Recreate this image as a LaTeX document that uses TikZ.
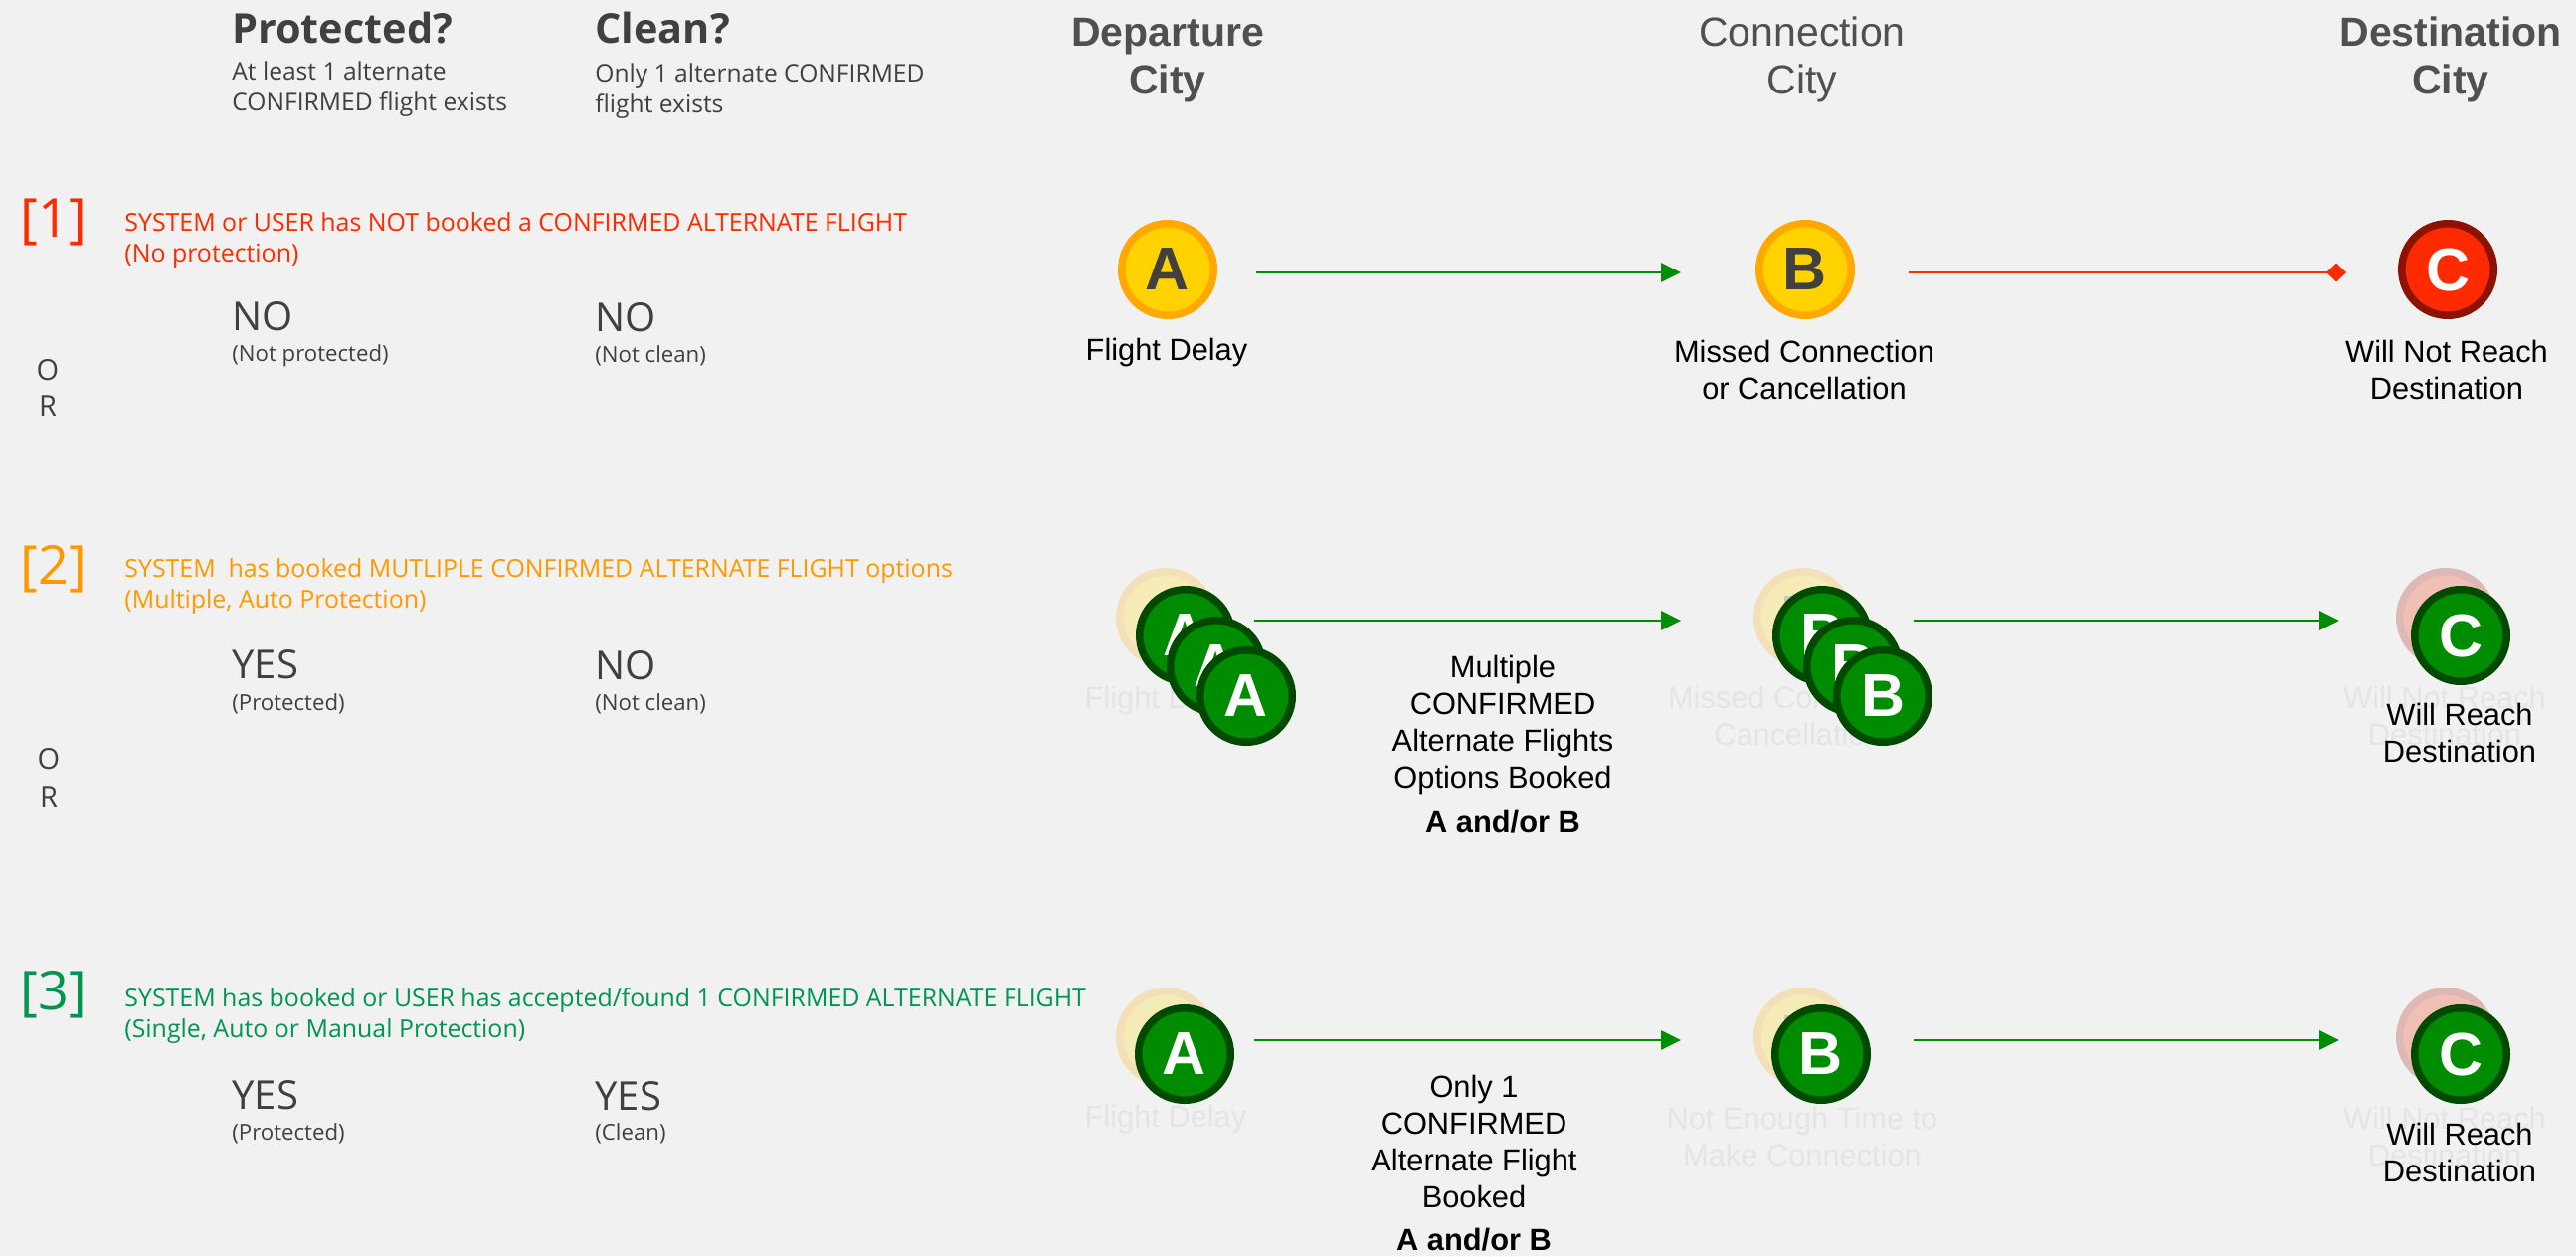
\documentclass[tikz,border=0pt]{standalone}
\usepackage{fontspec}
\setmainfont{Liberation Sans}
\newfontfamily\tahfont{Open Sans}
\usetikzlibrary{arrows.meta}
\definecolor{pageBG}{HTML}{F1F1F1}
\definecolor{darkTX}{HTML}{404040}
\definecolor{headTX}{HTML}{505050}
\definecolor{ylwFL}{HTML}{FFD200}
\definecolor{ylwDR}{HTML}{FFA800}
\definecolor{redFL}{HTML}{FF2A00}
\definecolor{redDR}{HTML}{8E1200}
\definecolor{grnFL}{HTML}{008C00}
\definecolor{grnDR}{HTML}{004A00}
\definecolor{ornTX}{HTML}{FF9900}
\definecolor{seaTX}{HTML}{009650}
\definecolor{pylwFL}{HTML}{F4EBB6}
\definecolor{pylwDR}{HTML}{F3E0B8}
\definecolor{predFL}{HTML}{F2BFB5}
\definecolor{predDR}{HTML}{DDB8B5}
\begin{document}
\begin{tikzpicture}[x=0.5pt,y=-0.5pt,
                    dotND/.style={circle,
                                  line width=3.75pt,
                                  minimum size=46.25pt,
                                  inner sep=0pt,
                                  font=\bfseries\fontsize{30.5}{32}\selectfont},
                    ylwND/.style={dotND,draw=ylwDR,fill=ylwFL,text=darkTX},
                    redND/.style={dotND,draw=redDR,fill=redFL,text=white},
                    grnND/.style={dotND,draw=grnDR,fill=grnFL,text=white},
                    pylwND/.style={dotND,draw=pylwDR,fill=pylwFL,text=black!22},
                    predND/.style={dotND,draw=predDR,fill=predFL,text=predFL!50},
                    capND/.style={inner sep=0pt,anchor=base,align=center,
                                  font=\fontsize{15.4}{18.4}\selectfont},
                    boldND/.style={capND,font=\bfseries\fontsize{15.4}{18.4}\selectfont},
                    headND/.style={inner sep=0pt,anchor=base,align=center,text=headTX,
                                   font=\fontsize{20.5}{24}\selectfont},
                    titleND/.style={inner sep=0pt,anchor=base west,text=darkTX,
                                    font=\tahfont\bfseries\fontsize{20.7}{24}\selectfont},
                    noteND/.style={inner sep=0pt,anchor=base west,align=left,text=darkTX,
                                   font=\tahfont\fontsize{12.3}{15.5}\selectfont},
                    sideND/.style={inner sep=0pt,anchor=base west,align=left,
                                   font=\tahfont\fontsize{12.45}{15.5}\selectfont},
                    bigND/.style={inner sep=0pt,anchor=base west,text=darkTX,
                                  font=\tahfont\fontsize{20}{24}\selectfont},
                    subND/.style={inner sep=0pt,anchor=base west,text=darkTX,
                                  font=\tahfont\fontsize{11.1}{14}\selectfont},
                    numND/.style={inner sep=0pt,anchor=base west,
                                  font=\tahfont\fontsize{27}{30}\selectfont},
                    orND/.style={inner sep=0pt,anchor=base,text=darkTX,
                                 font=\tahfont\fontsize{14.5}{18}\selectfont},
                    fadeTX/.style={capND,opacity=.05},
                    goEG/.style={draw=grnFL,line width=1.4pt,-{Triangle[length=10pt,width=9.5pt]},
                                 transform canvas={yshift=-1.5pt}},
                    stopEG/.style={draw=redFL,line width=1.4pt,-{Diamond[length=10pt,width=9.5pt]},
                                   transform canvas={yshift=-1.5pt}}]
            \fill[pageBG] (0,0) rectangle (2590,1263);
            \useasboundingbox (0,0) rectangle (2590,1263);
            \node[titleND](tProt) at (233,44) {Protected?};
            \node[titleND](tClean) at (598,44) {Clean?};
            \node[noteND](nProt) at (233,112) {At least 1 alternate\\CONFIRMED flight exists};
            \node[noteND](nClean) at (598,113) {Only 1 alternate CONFIRMED\\flight exists};
            \node[headND,font=\bfseries\fontsize{20.5}{24}\selectfont](hDep) at (1174,95) {Departure\\City};
            \node[headND](hCon) at (1812,95) {Connection\\City};
            \node[headND,font=\bfseries\fontsize{20.5}{24}\selectfont](hDes) at (2464,95) {Destination\\City};

            \node[numND,text=redFL](n1) at (20,238) {[1]};
            \node[sideND,text=redFL](s1) at (125,263) {SYSTEM or USER has NOT booked a CONFIRMED ALTERNATE FLIGHT\\(No protection)};
            \node[bigND](p1) at (233,332) {NO};
            \node[subND](q1) at (233,363) {(Not protected)};
            \node[bigND](c1) at (598,333) {NO};
            \node[subND](d1) at (598,364) {(Not clean)};
            \node[orND](o1) at (48,382) {O};
            \node[orND](r1) at (48,418) {R};

            \node[numND,text=ornTX](n2) at (20,587) {[2]};
            \node[sideND,text=ornTX](s2) at (125,611) {SYSTEM\ \ has booked MUTLIPLE CONFIRMED ALTERNATE FLIGHT options\\(Multiple, Auto Protection)};
            \node[bigND](p2) at (233,682) {YES};
            \node[subND](q2) at (233,714) {(Protected)};
            \node[bigND](c2) at (598,683) {NO};
            \node[subND](d2) at (598,714) {(Not clean)};
            \node[orND](o2) at (49,773) {O};
            \node[orND](r2) at (49,811) {R};

            \node[numND,text=seaTX](n3) at (20,1015) {[3]};
            \node[sideND,text=seaTX](s3) at (125,1043) {SYSTEM has booked or USER has accepted/found 1 CONFIRMED ALTERNATE FLIGHT\\(Single, Auto or Manual Protection)};
            \node[bigND](p3) at (233,1115) {YES};
            \node[subND](q3) at (233,1146) {(Protected)};
            \node[bigND](c3) at (598,1116) {YES};
            \node[subND](d3) at (598,1146) {(Clean)};

            \node[ylwND](A1) at (1174,271) {A};
            \node[ylwND](B1) at (1815,271) {B};
            \node[redND](C1) at (2461,271) {C};
            \node[capND](a1) at (1173,362) {Flight Delay};
            \node[capND](b1) at (1814,401) {Missed Connection\\or Cancellation};
            \node[capND](e1) at (2460,401) {Will Not Reach\\Destination};
            \path
                (A1) edge [goEG,shorten <=19.25pt,shorten >=37.5pt] (B1)
                (B1) edge [stopEG,shorten <=27pt,shorten >=26pt] (C1)
                ;

            \node[pylwND](A2) at (1172,621) {A};
            \node[pylwND](B2) at (1813,621) {B};
            \node[predND](C2) at (2459,621) {C};
            \node[fadeTX](a2) at (1172,712) {Flight Delay};
            \node[fadeTX](b2) at (1808,749) {Missed Connection\\Cancellation};
            \node[fadeTX](e2) at (2458,749) {Will Not Reach\\Destination};
            \path
                (A2) edge [goEG,shorten <=19.5pt,shorten >=36.5pt] (B2)
                (B2) edge [goEG,shorten <=30.5pt,shorten >=28.5pt] (C2)
                ;
            \node[grnND](A2x) at (1192,639) {A};
            \node[grnND](A2y) at (1223,670) {A};
            \node[grnND](A2z) at (1253,700) {A};
            \node[grnND](B2x) at (1832,639) {B};
            \node[grnND](B2y) at (1863,670) {B};
            \node[grnND](B2z) at (1893,700) {B};
            \node[grnND](C2x) at (2474,639) {C};
            \node[capND](m2) at (1511,792) {Multiple\\CONFIRMED\\Alternate Flights\\Options Booked};
            \node[boldND](k2) at (1511,837) {A and/or B};
            \node[capND](g2) at (2473,766) {Will Reach\\Destination};

            \node[pylwND](A3) at (1172,1043) {A};
            \node[pylwND](B3) at (1813,1043) {B};
            \node[predND](C3) at (2459,1043) {C};
            \node[fadeTX](a3) at (1172,1133) {Flight Delay};
            \node[fadeTX](b3) at (1812,1172) {Not Enough Time to\\Make Connection};
            \node[fadeTX](e3) at (2458,1172) {Will Not Reach\\Destination};
            \path
                (A3) edge [goEG,shorten <=19.5pt,shorten >=36.5pt] (B3)
                (B3) edge [goEG,shorten <=30.5pt,shorten >=28.5pt] (C3)
                ;
            \node[grnND](A3x) at (1191,1060) {A};
            \node[grnND](B3x) at (1831,1060) {B};
            \node[grnND](C3x) at (2474,1060) {C};
            \node[capND](m3) at (1482,1214) {Only 1\\CONFIRMED\\Alternate Flight\\Booked};
            \node[boldND](k3) at (1482,1257) {A and/or B};
            \node[capND](g3) at (2473,1188) {Will Reach\\Destination};
\end{tikzpicture}
\end{document}
